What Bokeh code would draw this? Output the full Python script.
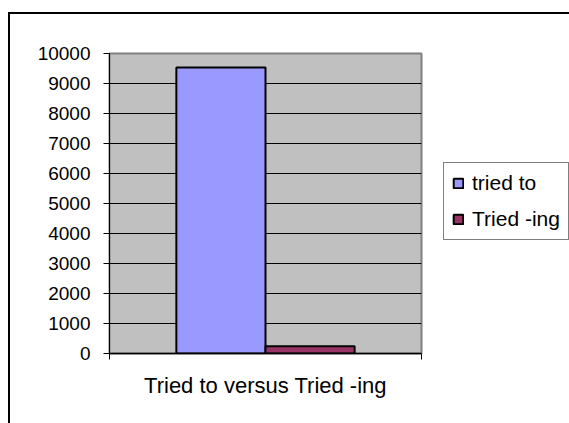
from bokeh.plotting import figure
from bokeh.models import (ColumnDataSource, Range1d, FixedTicker, Legend, LegendItem)
from bokeh.embed import file_html
from bokeh.resources import INLINE

# ---- data ----
categories = ["Tried to versus Tried -ing"]
series = ["tried to", "Tried -ing"]
values = [9530, 240]
colors = ["#9999FF", "#993366"]
y_ticks = [0, 1000, 2000, 3000, 4000, 5000, 6000, 7000, 8000, 9000, 10000]

FONT = "Liberation Sans"

p = figure(
    frame_width=312, frame_height=300,
    x_range=Range1d(0, len(categories)),
    y_range=Range1d(0, 10000),
    output_backend="svg", toolbar_location=None,
    min_border_left=99, min_border_right=148,
    min_border_top=39, min_border_bottom=70,
)
p.styles = {"border-left": "2px solid black", "border-top": "2px solid black",
            "margin-top": "12px", "margin-left": "8px"}

p.background_fill_color = "#C0C0C0"
p.border_fill_color = "white"
p.outline_line_color = "#808080"
p.outline_line_width = 2

# bars (Excel-like gap width 150%): category k occupies [k, k+1]
gap = 1.5
bar_w = 1.0 / (len(series) + gap)
renderers = []
for i, (name, val, col) in enumerate(zip(series, values, colors)):
    off = (i - (len(series) - 1) / 2) * bar_w
    src = ColumnDataSource(dict(x=[k + 0.5 + off for k in range(len(categories))],
                                top=[val]))
    r = p.vbar(x="x", top="top", width=bar_w,
               source=src, fill_color=col, line_color="black", line_width=2)
    renderers.append(r)

# y axis
ya = p.yaxis[0]
ya.ticker = FixedTicker(ticks=y_ticks)
ya.major_label_text_font = FONT
ya.major_label_text_font_size = "19px"
ya.major_label_text_color = "black"
ya.major_tick_out = 6
ya.major_tick_in = 0
ya.minor_tick_line_color = None
ya.axis_line_color = "black"
ya.major_tick_line_color = "black"
ya.major_label_standoff = 13

p.ygrid.grid_line_color = "black"
p.ygrid.ticker = FixedTicker(ticks=y_ticks)
p.xgrid.grid_line_color = None

# x axis: ticks at category boundaries + category label
edge_ticks = list(range(len(categories) + 1))
xa = p.xaxis[0]
xa.ticker = FixedTicker(ticks=edge_ticks)
xa.major_label_overrides = {t: "" for t in edge_ticks}
xa.major_label_standoff = 0
xa.major_tick_out = 6
xa.major_tick_in = 0
xa.minor_tick_line_color = None
xa.axis_line_color = "black"
xa.axis_line_width = 1.5
xa.major_tick_line_color = "black"
xa.axis_label = categories[0]
xa.axis_label_text_font = FONT
xa.axis_label_text_font_size = "22px"
xa.axis_label_text_font_style = "normal"
xa.axis_label_text_color = "black"
xa.axis_label_standoff = 13

# legend
legend = Legend(
    items=[LegendItem(label=s, renderers=[r]) for s, r in zip(series, renderers)],
    location=(22, 113),
    margin=0, padding=8, spacing=12,
    glyph_width=12, glyph_height=12, label_standoff=8,
    label_text_font=FONT, label_text_font_size="21px", label_text_color="black",
    border_line_color="black", border_line_width=1,
    background_fill_color="white", background_fill_alpha=1,
)
p.add_layout(legend, "right")

open("out.html", "w").write(file_html(p, INLINE))
